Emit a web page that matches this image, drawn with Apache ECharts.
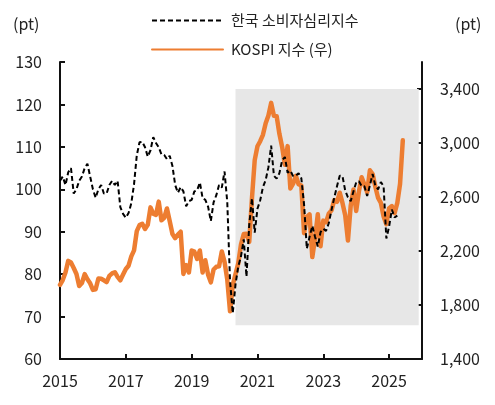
<!DOCTYPE html>
<html>
<head>
<meta charset="utf-8">
<script src="https://cdn.jsdelivr.net/npm/echarts@6/dist/echarts.min.js"></script>
<style>
html,body{margin:0;padding:0;background:#fff;}
#chart{width:495px;height:405px;}
</style>
</head>
<body>
<div id="chart"></div>
<script>
// Monthly data, starting January 2015
const startYear = 2015;
const seriesNames = ['한국 소비자심리지수', 'KOSPI 지수 (우)'];
const ccsi = [
  102, 103, 101, 104, 105, 99, 100, 102, 103, 105, 106, 103,
  100, 98, 100, 101, 99, 99, 101, 102, 101, 102, 95.8, 94.2,
  93.3, 94.4, 96.7, 101.2, 108, 111.1, 111.2, 109.9, 107.7, 109.2, 112.3, 110.9,
  109.9, 108.2, 108.1, 107.1, 107.9, 105.5, 101.0, 99.2, 100.5, 99.5, 96.0, 97.2,
  97.5, 99.5, 99.8, 101.6, 97.9, 97.5, 95.9, 92.5, 96.9, 98.6, 101.0, 100.4,
  104.2, 96.9, 78.4, 70.8, 77.6, 81.8, 84.2, 88.2, 79.4, 91.6, 97.9, 89.8,
  95.4, 97.4, 100.5, 102.2, 105.2, 110.3, 103.2, 102.5, 103.8, 106.8, 107.6, 103.9,
  104.4, 103.1, 103.2, 103.8, 102.6, 96.4, 86.0, 88.8, 91.4, 88.8, 86.5, 89.9,
  90.7, 90.2, 92.0, 95.1, 98.0, 100.7, 103.2, 103.1, 99.7, 98.1, 97.2, 99.5,
  101.6, 101.9, 100.7, 100.7, 98.4, 100.9, 103.6, 100.8, 100.0, 101.7, 100.7, 88.4,
  91.2, 95.2, 93.4, 93.8
];
const kospi = [
  1949, 1985, 2041, 2127, 2115, 2074, 2030, 1941, 1963, 2029, 1991, 1961,
  1912, 1917, 1996, 1994, 1983, 1970, 2016, 2034, 2043, 2008, 1983, 2026,
  2067, 2091, 2160, 2205, 2347, 2392, 2402, 2363, 2394, 2523, 2476, 2467,
  2566, 2427, 2445, 2515, 2423, 2326, 2295, 2322, 2343, 2030, 2096, 2041,
  2204, 2195, 2141, 2204, 2041, 2131, 2025, 1968, 2063, 2083, 2087, 2197,
  2119, 1987, 1754, 1947, 2030, 2108, 2249, 2326, 2327, 2267, 2591, 2873,
  2976, 3013, 3061, 3147, 3204, 3297, 3202, 3199, 3068, 2971, 2839, 2977,
  2663, 2699, 2757, 2695, 2685, 2332, 2451, 2472, 2155, 2293, 2472, 2236,
  2425, 2412, 2476, 2501, 2577, 2564, 2632, 2556, 2465, 2277, 2535, 2655,
  2497, 2642, 2747, 2692, 2636, 2798, 2770, 2674, 2593, 2556, 2456, 2399,
  2517, 2532, 2481, 2557, 2697, 3020
];
const xTickYears = [2015, 2017, 2019, 2021, 2023, 2025];
const leftTicks = [60, 70, 80, 90, 100, 110, 120, 130];
const rightTicks = [1400, 1800, 2200, 2600, 3000, 3400];
const shadeX = [2020.333, 2025.9];
const shadeY = [1650, 3400];

const toPairs = arr => arr.map((v, i) => [startYear + i / 12, v]);

const font = '"Noto Sans CJK KR", "Noto Sans", sans-serif';
const txt = '#222';

const chart = echarts.init(document.getElementById('chart'), null, {renderer: 'canvas'});
chart.setOption({
  animation: false,
  backgroundColor: '#fff',
  textStyle: {fontFamily: font},
  grid: {left: 60, right: 73, top: 62, bottom: 46, containLabel: false},
  legend: {
    data: seriesNames,
    orient: 'vertical',
    left: 151,
    top: 13,
    padding: 0,
    itemWidth: 71,
    itemHeight: 14,
    itemGap: 14,
    itemStyle: {opacity: 0},
    textStyle: {fontFamily: font, fontSize: 15, color: txt, padding: [0, 0, 0, 3]}
  },
  graphic: [
    {type: 'text', left: 13, top: 16, style: {text: '(pt)', font: '16px ' + font, fill: txt}},
    {type: 'text', left: 455, top: 16, style: {text: '(pt)', font: '16px ' + font, fill: txt}}
  ],
  xAxis: {
    type: 'value',
    min: 2015,
    max: 2026,
    splitLine: {show: false},
    axisLine: {show: true, onZero: false, lineStyle: {color: '#111', width: 2}},
    axisTick: {show: true, inside: true, length: 5, customValues: xTickYears, lineStyle: {color: '#111', width: 2}},
    axisLabel: {customValues: xTickYears, fontSize: 16, color: txt, margin: 14, formatter: v => String(Math.round(v))}
  },
  yAxis: [
    {
      type: 'value',
      min: 60,
      max: 130,
      interval: 10,
      splitLine: {show: false},
      axisLine: {show: true, lineStyle: {color: '#111', width: 2}},
      axisTick: {show: true, inside: true, length: 5, lineStyle: {color: '#111', width: 2}},
      axisLabel: {fontSize: 16, color: txt, margin: 18}
    },
    {
      type: 'value',
      min: 1400,
      max: 3600,
      position: 'right',
      splitLine: {show: false},
      axisLine: {show: true, lineStyle: {color: '#111', width: 2}},
      axisTick: {show: true, inside: true, length: 5, customValues: rightTicks, lineStyle: {color: '#111', width: 2}},
      axisLabel: {customValues: rightTicks, fontSize: 16, color: txt, margin: 18,
        formatter: v => v.toLocaleString('en-US')}
    }
  ],
  series: [
    {
      name: seriesNames[1],
      type: 'line',
      yAxisIndex: 1,
      data: toPairs(kospi),
      showSymbol: false,
      symbol: 'none',
      lineStyle: {color: '#ED7D31', width: 4.5, join: 'round', cap: 'round'},
      itemStyle: {color: '#ED7D31'},
      z: 3,
      markArea: {
        silent: true,
        itemStyle: {color: '#e7e7e7'},
        data: [[{coord: [shadeX[0], shadeY[0]]}, {coord: [shadeX[1], shadeY[1]]}]],
        z: 1
      }
    },
    {
      name: seriesNames[0],
      type: 'line',
      yAxisIndex: 0,
      data: toPairs(ccsi),
      showSymbol: false,
      symbol: 'none',
      lineStyle: {color: '#000', width: 2, type: [5, 3]},
      itemStyle: {color: '#000'},
      z: 4
    }
  ]
});
</script>
</body>
</html>
